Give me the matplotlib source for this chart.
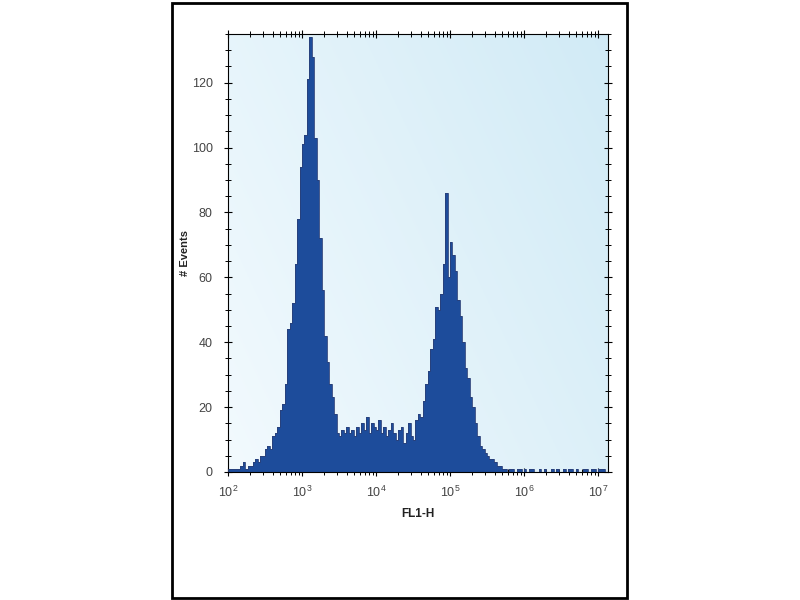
import numpy as np
import matplotlib
matplotlib.use("Agg")
import matplotlib.pyplot as plt
from matplotlib.patches import Rectangle
from matplotlib.ticker import FixedLocator, LogLocator, MultipleLocator, NullFormatter

plt.rcParams['font.family'] = ['Liberation Sans', 'DejaVu Sans']
plt.rcParams['mathtext.fontset'] = 'custom'
plt.rcParams['mathtext.rm'] = 'Liberation Sans'
plt.rcParams['mathtext.it'] = 'Liberation Sans'

# histogram: 30 bins per decade starting at 10^2
log_start = 2.0
bins_per_decade = 30
counts = [
    1, 1, 1, 1, 1, 2, 3, 1, 2, 2,
    3, 4, 3, 5, 5, 7, 8, 7, 11, 12,
    14, 19, 21, 27, 44, 46, 52, 64, 78, 94,
    101, 104, 121, 134, 128, 103, 90, 72, 56, 42,
    34, 27, 23, 18, 12, 11, 13, 12, 14, 12,
    13, 11, 14, 12, 15, 13, 17, 12, 15, 14,
    13, 16, 12, 14, 11, 13, 15, 12, 10, 13,
    14, 9, 12, 15, 11, 10, 16, 18, 17, 22,
    27, 31, 38, 41, 51, 50, 55, 64, 86, 60,
    71, 67, 62, 53, 48, 40, 32, 29, 23, 20,
    15, 11, 8, 7, 6, 5, 4, 4, 3, 2,
    2, 1, 1, 0, 1, 1, 0, 1, 1, 0,
    1, 0, 1, 1, 0, 0, 1, 0, 1, 0,
    0, 1, 0, 1, 0, 0, 1, 0, 1, 1,
    0, 1, 0, 0, 1, 1, 0, 1, 1, 0,
    1, 1, 1, 0,
]
xtick_vals = [1e2, 1e3, 1e4, 1e5, 1e6, 1e7]
xtick_labels = ['$10^2$', '$10^3$', '$10^4$', '$10^5$', '$10^6$', '$10^7$']
ytick_vals = [0, 20, 40, 60, 80, 100, 120]

edges = 10 ** (log_start + np.arange(len(counts) + 1) / bins_per_decade)

fig = plt.figure(figsize=(8, 6), dpi=100)
fig.patches.append(Rectangle((172 / 800, 2 / 600), 455 / 800, 595 / 600,
                             transform=fig.transFigure, fill=False,
                             edgecolor='black', linewidth=2))

ax = fig.add_axes([228 / 800, 1 - 472 / 600, 380 / 800, 438 / 600])

# light blue gradient background
gx = np.linspace(0, 1, 200)
gy = np.linspace(0, 1, 200)
GX, GY = np.meshgrid(gx, gy)
g = 0.65 * GX + 0.35 * (1 - GY)
c0 = np.array([0.95, 0.98, 0.995])
c1 = np.array([0.82, 0.92, 0.965])
img = c0 + (c1 - c0) * g[..., None]
ax.imshow(img, extent=[0, 1, 0, 1], transform=ax.transAxes, aspect='auto',
          origin='upper', zorder=0)

ax.stairs(counts, edges, fill=True, color='#1d4c9b', zorder=2)
ax.stairs(counts, edges, fill=False, color='#2a3f78', linewidth=0.6, zorder=3)

ax.set_xscale('log')
ax.set_xlim(1e2, 10 ** 7.135)
ax.set_ylim(0, 135)

ax.xaxis.set_major_locator(FixedLocator(xtick_vals))
ax.set_xticklabels(xtick_labels)
ax.xaxis.set_minor_locator(LogLocator(base=10, subs=np.arange(2, 10)))
ax.xaxis.set_minor_formatter(NullFormatter())
ax.yaxis.set_major_locator(FixedLocator(ytick_vals))
ax.yaxis.set_minor_locator(MultipleLocator(5))

ax.tick_params(axis='both', which='major', labelsize=9, labelcolor='#444444',
               direction='inout', length=6, width=0.8, top=True, right=True)
ax.tick_params(axis='both', which='minor', direction='inout', length=4,
               width=0.7, top=True, right=True)
ax.tick_params(axis='y', which='major', pad=8)
ax.tick_params(axis='x', which='major', pad=6)

for s in ax.spines.values():
    s.set_linewidth(0.8)
    s.set_color('black')

ax.set_ylabel('# Events', fontsize=8, fontweight='bold', color='#222222', labelpad=1)
ax.set_xlabel('FL1-H', fontsize=8.5, fontweight='bold', color='#222222', labelpad=6)

fig.savefig('out.png', dpi=100)
